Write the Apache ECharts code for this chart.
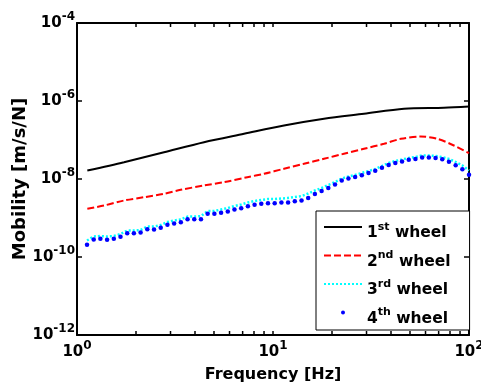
<!DOCTYPE html>
<html>
<head>
<meta charset="utf-8">
<script src="https://cdn.jsdelivr.net/npm/echarts@6/dist/echarts.min.js"></script>
<style>
  html, body { margin: 0; padding: 0; background: #fff; }
  #chart { width: 481px; height: 385px; }
</style>
</head>
<body>
<div id="chart"></div>
<script>
// tick positions (Hz and m/s/N)
const xTickValues = [1, 2, 3, 4, 5, 6, 7, 8, 9, 10, 20, 30, 40, 50, 60, 70, 80, 90, 100];
const xLabelValues = [1, 10, 100];
const yTickValues = [1e-12, 1e-10, 1e-8, 1e-6, 1e-4];

// 1st wheel (solid black)
const freqSolid = [1.129, 1.737, 2.779, 4.446, 7.112, 11.38, 18.2, 29.12, 46.6, 74.5, 100];
const wheel1 = [1.65e-8, 2.70e-8, 4.87e-8, 8.79e-8, 1.44e-7, 2.35e-7, 3.50e-7, 4.70e-7, 6.31e-7, 6.70e-7, 7.22e-7];

// 2nd wheel (red dashed)
const freqDashed = [1.129, 1.373, 1.737, 2.197, 2.779, 3.381, 4.446, 5.623, 7.39, 9.0, 11.38, 14.39, 18.2, 23.0, 29.12, 36.8, 44.85, 56.7, 68.9, 83.8, 100];
const wheel2 = [1.72e-9, 2.09e-9, 2.81e-9, 3.41e-9, 4.18e-9, 5.28e-9, 6.81e-9, 8.28e-9, 1.11e-8, 1.36e-8, 1.83e-8, 2.45e-8, 3.30e-8, 4.43e-8, 5.95e-8, 8.0e-8, 1.07e-7, 1.23e-7, 1.07e-7, 7.23e-8, 4.59e-8];

// 3rd / 4th wheel share the measurement frequencies
const freq = [1.125, 1.217, 1.316, 1.424, 1.541, 1.667, 1.804, 1.951, 2.111, 2.284,
  2.472, 2.674, 2.893, 3.130, 3.387, 3.664, 3.965, 4.290, 4.641, 5.022,
  5.433, 5.879, 6.360, 6.882, 7.446, 8.054, 8.715, 9.428, 10.20, 11.04,
  11.94, 12.92, 13.98, 15.12, 16.36, 17.70, 19.15, 20.72, 22.42, 24.26,
  26.24, 28.39, 30.72, 33.24, 35.96, 38.90, 42.09, 45.54, 49.27, 53.31,
  57.68, 62.40, 67.51, 73.04, 79.03, 85.51, 92.51, 100];
const wheel3 = [2.65e-10, 3.36e-10, 3.45e-10, 3.36e-10, 3.45e-10, 3.89e-10, 4.78e-10, 4.78e-10, 4.92e-10, 6.05e-10,
  6.05e-10, 6.62e-10, 7.89e-10, 8.63e-10, 9.16e-10, 1.09e-9, 1.09e-9, 1.12e-9, 1.51e-9, 1.51e-9,
  1.65e-9, 1.80e-9, 2.03e-9, 2.22e-9, 2.50e-9, 2.73e-9, 2.90e-9, 3.07e-9, 3.07e-9, 3.16e-9,
  3.26e-9, 3.45e-9, 3.66e-9, 4.25e-9, 5.07e-9, 5.88e-9, 7.02e-9, 8.38e-9, 1.03e-8, 1.16e-8,
  1.27e-8, 1.43e-8, 1.60e-8, 1.80e-8, 2.15e-8, 2.57e-8, 2.90e-8, 3.16e-8, 3.45e-8, 3.66e-8,
  4.01e-8, 4.01e-8, 3.89e-8, 3.66e-8, 3.26e-8, 2.73e-8, 2.22e-8, 1.65e-8];
const wheel4 = [2.06e-10, 2.81e-10, 2.93e-10, 2.76e-10, 2.93e-10, 3.30e-10, 4.08e-10, 4.08e-10, 4.25e-10, 5.16e-10,
  5.07e-10, 5.61e-10, 6.70e-10, 7.23e-10, 7.80e-10, 9.31e-10, 9.31e-10, 9.31e-10, 1.28e-9, 1.28e-9,
  1.36e-9, 1.47e-9, 1.65e-9, 1.78e-9, 2.01e-9, 2.18e-9, 2.31e-9, 2.39e-9, 2.39e-9, 2.50e-9,
  2.50e-9, 2.70e-9, 2.81e-9, 3.26e-9, 4.12e-9, 4.92e-9, 5.88e-9, 7.23e-9, 9.16e-9, 1.03e-8,
  1.13e-8, 1.25e-8, 1.43e-8, 1.62e-8, 1.94e-8, 2.27e-8, 2.57e-8, 2.81e-8, 3.10e-8, 3.26e-8,
  3.56e-8, 3.54e-8, 3.44e-8, 3.22e-8, 2.78e-8, 2.26e-8, 1.78e-8, 1.28e-8];

const seriesNames = ['1st wheel', '2nd wheel', '3rd wheel', '4th wheel'];
const legendText = {
  '1st wheel': '{b|1}{s|st}{b| wheel}',
  '2nd wheel': '{b|2}{s|nd}{b| wheel}',
  '3rd wheel': '{b|3}{s|rd}{b| wheel}',
  '4th wheel': '{b|4}{s|th}{b| wheel}'
};

const FONT = 'DejaVu Sans';
const X_MIN = 1, X_MAX = 100, Y_MIN = 1e-12, Y_MAX = 1e-4;
const zip = (xs, ys) => xs.map((x, i) => [x, ys[i]]);
const pow10 = v => '{b|10}{s|' + Math.round(Math.log10(v)) + '}';

const tickRich = {
  b: { fontFamily: FONT, fontWeight: 'bold', fontSize: 15, color: '#000' },
  s: { fontFamily: FONT, fontWeight: 'bold', fontSize: 12, color: '#000', padding: [0, 0, 13, 0] }
};

function makeX(pos, labels) {
  return {
    type: 'log', logBase: 10, min: X_MIN, max: X_MAX, position: pos, gridIndex: 0,
    name: labels ? 'Frequency [Hz]' : '',
    nameLocation: 'middle', nameGap: 32, nameMoveOverlap: false,
    nameTextStyle: { fontFamily: FONT, fontWeight: 'bold', fontSize: 16, color: '#000' },
    axisLine: { show: true, onZero: false, lineStyle: { color: '#000', width: 2 } },
    axisTick: { show: false },
    axisLabel: { show: labels, customValues: xLabelValues, margin: 5, formatter: pow10, rich: tickRich },
    splitLine: { show: false }, minorTick: { show: false }
  };
}
function makeY(pos, labels) {
  return {
    type: 'log', logBase: 10, min: Y_MIN, max: Y_MAX, position: pos, gridIndex: 0,
    name: labels ? 'Mobility [m/s/N]' : '',
    nameLocation: 'middle', nameGap: 48, nameMoveOverlap: false,
    nameTextStyle: { fontFamily: FONT, fontWeight: 'bold', fontSize: 18, color: '#000' },
    axisLine: { show: true, onZero: false, lineStyle: { color: '#000', width: 2 } },
    axisTick: { show: false },
    axisLabel: { show: labels, customValues: yTickValues, margin: 2, formatter: pow10, rich: tickRich },
    splitLine: { show: false }, minorTick: { show: false }
  };
}

// inward tick marks on all four sides, placed through the axes' own scales
function tickLine(x1, y1, x2, y2) {
  return { type: 'line', shape: { x1: x1, y1: y1, x2: x2, y2: y2 }, style: { stroke: '#000', lineWidth: 1.5 } };
}
const xTickSeries = {
  type: 'custom', silent: true, clip: false, z: 5,
  data: xTickValues.map(v => [v, Y_MIN]),
  renderItem: (params, api) => {
    const v = api.value(0);
    const b = api.coord([v, Y_MIN]);
    const t = api.coord([v, Y_MAX]);
    const x = b[0];
    return { type: 'group', children: [tickLine(x, b[1], x, b[1] - 4), tickLine(x, t[1], x, t[1] + 4)] };
  }
};
const yTickSeries = {
  type: 'custom', silent: true, clip: false, z: 5,
  data: yTickValues.map(v => [X_MIN, v]),
  renderItem: (params, api) => {
    const v = api.value(1);
    const l = api.coord([X_MIN, v]);
    const r = api.coord([X_MAX, v]);
    const y = l[1];
    return { type: 'group', children: [tickLine(l[0], y, l[0] + 5, y), tickLine(r[0], y, r[0] - 5, y)] };
  }
};

const chart = echarts.init(document.getElementById('chart'), null, { renderer: 'canvas' });
chart.setOption({
  animation: false,
  backgroundColor: '#fff',
  grid: { left: 77, right: 12, top: 23, bottom: 50, containLabel: false, outerBoundsMode: 'none' },
  xAxis: [makeX('bottom', true), makeX('top', false)],
  yAxis: [makeY('left', true), makeY('right', false)],
  legend: {
    orient: 'vertical', left: 316, top: 211,
    padding: [10.5, 19, 3.5, 7],
    itemGap: 9, itemWidth: 38, itemHeight: 5,
    backgroundColor: '#fff', borderColor: '#000', borderWidth: 1, borderRadius: 0,
    data: [
      { name: seriesNames[0], itemStyle: { opacity: 0 } },
      { name: seriesNames[1], itemStyle: { opacity: 0 } },
      { name: seriesNames[2], itemStyle: { opacity: 0 } },
      { name: seriesNames[3] }
    ],
    formatter: name => legendText[name],
    textStyle: {
      fontFamily: FONT, fontWeight: 'bold', fontSize: 15.5, color: '#000',
      rich: {
        b: { fontFamily: FONT, fontWeight: 'bold', fontSize: 15.5, color: '#000', padding: [12, 0, 0, 0] },
        s: { fontFamily: FONT, fontWeight: 'bold', fontSize: 11, color: '#000' }
      }
    }
  },
  series: [
    {
      name: seriesNames[0], type: 'line', data: zip(freqSolid, wheel1),
      symbol: 'none', smooth: 0.3,
      itemStyle: { color: '#000' },
      lineStyle: { color: '#000', width: 2 }
    },
    {
      name: seriesNames[1], type: 'line', data: zip(freqDashed, wheel2),
      symbol: 'none', smooth: 0.3,
      itemStyle: { color: '#ff0000' },
      lineStyle: { color: '#ff0000', width: 2, type: [7, 3] }
    },
    {
      name: seriesNames[2], type: 'line', data: zip(freq, wheel3),
      symbol: 'none',
      itemStyle: { color: '#00ffff' },
      lineStyle: { color: '#00ffff', width: 2.5, type: [2, 2] }
    },
    {
      name: seriesNames[3], type: 'line', data: zip(freq, wheel4),
      symbol: 'circle', symbolSize: 4.5, showSymbol: true, showAllSymbol: true,
      itemStyle: { color: '#0000ff' },
      lineStyle: { opacity: 0, width: 0 }
    },
    xTickSeries,
    yTickSeries
  ]
});
</script>
</body>
</html>
